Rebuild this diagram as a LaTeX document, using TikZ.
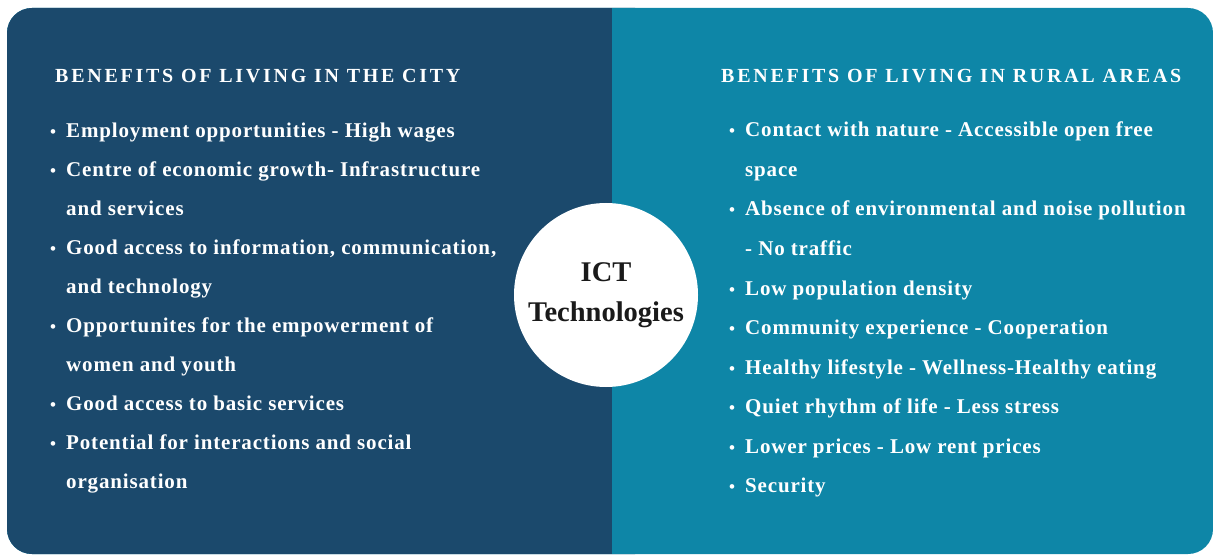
\documentclass[tikz,border=0pt]{standalone}
\usepackage{fontspec}
\setmainfont{Liberation Serif}
\newfontfamily\titlefont[LetterSpace=13.7]{Liberation Serif}
\newfontfamily\bodyfont[LetterSpace=4]{Liberation Serif}
\definecolor{citycol}{RGB}{27,73,108}
\definecolor{ruralcol}{RGB}{14,134,167}
\definecolor{inkcol}{RGB}{26,26,26}
\tikzset{
  x=1pt, y=-1pt,
  paneltitle/.style={anchor=base west, inner sep=0pt, text=white, font=\titlefont\bfseries\fontsize{20}{24}\selectfont},
  bodyline/.style={anchor=base west, inner sep=0pt, text=white, font=\bodyfont\bfseries\fontsize{21}{25}\selectfont},
  bulletmark/.style={anchor=base, inner sep=0pt, text=white, font=\bfseries\fontsize{17}{20}\selectfont},
  hub/.style={circle, fill=white, minimum size=184pt, inner sep=0pt, align=center, text=inkcol, font=\bfseries\fontsize{28.5}{40}\selectfont}
}
\begin{document}
\begin{tikzpicture}
\useasboundingbox (0,0) rectangle (1213,556);
% panels
\fill[ruralcol, rounded corners=25pt] (7,8) rectangle (1213,554);
\fill[citycol, rounded corners=25pt] (7,8) rectangle (660,554);
\fill[ruralcol] (612,8) rectangle (680,554);
% left panel
\node[paneltitle] (ltitle) at (55,83) {BENEFITS OF LIVING IN THE CITY};
\node[bulletmark] (lb1) at (53,138) {•};
\node[bodyline] (l1) at (66,138) {Employment opportunities - High wages};
\node[bulletmark] (lb2) at (53,176.9) {•};
\node[bodyline] (l2) at (66,176.9) {Centre of economic growth- Infrastructure};
\node[bodyline] (l3) at (66,215.8) {and services};
\node[bulletmark] (lb4) at (53,254.7) {•};
\node[bodyline] (l4) at (66,254.7) {Good access to information, communication,};
\node[bodyline] (l5) at (66,293.6) {and technology};
\node[bulletmark] (lb6) at (53,332.5) {•};
\node[bodyline] (l6) at (66,332.5) {Opportunites for the empowerment of};
\node[bodyline] (l7) at (66,371.4) {women and youth};
\node[bulletmark] (lb8) at (53,410.3) {•};
\node[bodyline] (l8) at (66,410.3) {Good access to basic services};
\node[bulletmark] (lb9) at (53,449.2) {•};
\node[bodyline] (l9) at (66,449.2) {Potential for interactions and social};
\node[bodyline] (l10) at (66,488.1) {organisation};
% right panel
\node[paneltitle] (rtitle) at (721,83) {BENEFITS OF LIVING IN RURAL AREAS};
\node[bulletmark] (rb1) at (732,137) {•};
\node[bodyline] (r1) at (745,137) {Contact with nature - Accessible open free};
\node[bodyline] (r2) at (745,176.5) {space};
\node[bulletmark] (rb3) at (732,216) {•};
\node[bodyline] (r3) at (745,216) {Absence of environmental and noise pollution};
\node[bodyline] (r4) at (745,255.5) {- No traffic};
\node[bulletmark] (rb5) at (732,295) {•};
\node[bodyline] (r5) at (745,295) {Low population density};
\node[bulletmark] (rb6) at (732,334.5) {•};
\node[bodyline] (r6) at (745,334.5) {Community experience - Cooperation};
\node[bulletmark] (rb7) at (732,374) {•};
\node[bodyline] (r7) at (745,374) {Healthy lifestyle - Wellness-Healthy eating};
\node[bulletmark] (rb8) at (732,413.5) {•};
\node[bodyline] (r8) at (745,413.5) {Quiet rhythm of life - Less stress};
\node[bulletmark] (rb9) at (732,453) {•};
\node[bodyline] (r9) at (745,453) {Lower prices - Low rent prices};
\node[bulletmark] (rb10) at (732,492.5) {•};
\node[bodyline] (r10) at (745,492.5) {Security};
% centre
\node[hub] (ict) at (606,295) {ICT\\Technologies};
\end{tikzpicture}
\end{document}
